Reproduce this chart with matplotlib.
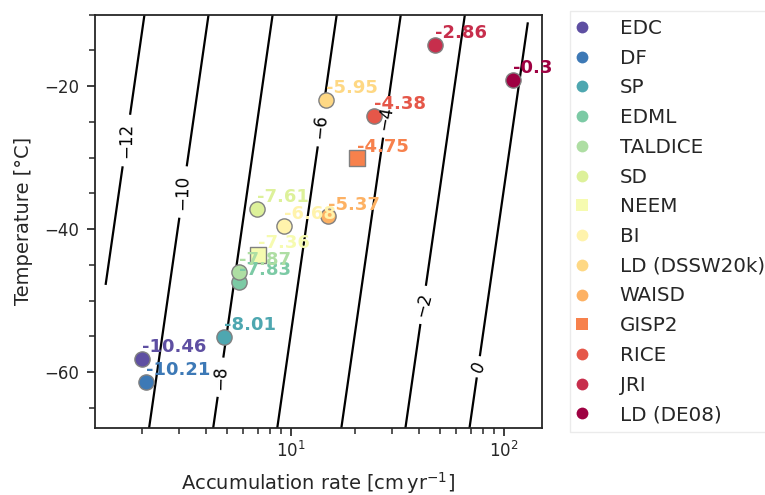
import numpy as np
import matplotlib.pyplot as plt
import seaborn as sns
from matplotlib.lines import Line2D
from matplotlib.ticker import MultipleLocator

sns.set_style("ticks")

# Standorte
sites = ["EDC", "DF", "SP", "EDML", "TALDICE", "SD", "NEEM", "BI",
         "LD (DSSW20k)", "WAISD", "GISP2", "RICE", "JRI", "LD (DE08)"]
markers = ["o", "o", "o", "o", "o", "o", "s", "o", "o", "o", "s", "o", "o", "o"]
accum = [2.0, 2.1, 4.87, 5.71, 5.71, 6.92, 7.0, 9.3, 14.66, 15.03, 20.5, 24.7, 47.7, 110.7]
temp = [-58.1, -61.4, -55.1, -47.4, -46.0, -37.2, -43.6, -39.5, -21.9, -38.2, -30.1, -24.2, -14.2, -19.1]
value = [-10.46, -10.21, -8.01, -7.83, -7.87, -7.61, -7.36, -6.68, -5.95, -5.37, -4.75, -4.38, -2.86, -0.3]

# Konturen
levels = [-12, -10, -8, -6, -4, -2, 0]
label_pos = [(1.72, -27.6), (3.12, -34.8), (4.65, -60.7), (14.2, -25.7),
             (28.1, -24.5), (42.0, -50.6), (76.3, -59.3)]
k_acc = 2.0      # pro log2(A)
k_temp = -0.0321  # pro Grad
offset = -14.40

colors = plt.cm.Spectral_r(np.linspace(0, 1, len(sites)))

fig = plt.figure(figsize=(7.65, 4.95), dpi=100)
ax = fig.add_axes([0.1238, 0.1354, 0.5843, 0.8349])

aa = np.logspace(np.log10(1.35), np.log10(130), 300)
tt = np.linspace(-72, -6, 300)
AA, TT = np.meshgrid(aa, tt)
ZZ = k_acc * np.log2(AA) + k_temp * TT + offset
cs = ax.contour(AA, TT, ZZ, levels=levels, colors="k", linewidths=1.6,
                linestyles="solid")
ax.clabel(cs, fontsize=12, manual=label_pos, inline=True)

handles = []
for s, m, a, t, v, c in zip(sites, markers, accum, temp, value, colors):
    ax.scatter(a, t, s=120, color=c, marker=m, edgecolor="gray", linewidth=1, zorder=3)
    ax.annotate(str(v), (a, t), xytext=(0, 2), textcoords="offset points",
                color=c, fontweight="bold", fontsize=13, ha="left", va="bottom",
                zorder=4)
    handles.append(Line2D([], [], ls="", marker=m, color=c, markersize=8.5,
                          markeredgewidth=0, label=s))

ax.set_xscale("log")
ax.set_xlim(1.2, 151)
ax.set_ylim(-67.8, -10)
ax.yaxis.set_major_locator(MultipleLocator(20))
ax.yaxis.set_minor_locator(MultipleLocator(5))
ax.tick_params(which="major", length=6, width=1.25, labelsize=12)
ax.tick_params(axis="y", which="major", pad=5)
ax.tick_params(which="minor", length=4, width=1.1)
for sp in ax.spines.values():
    sp.set_linewidth(1.3)

ax.set_xlabel(r"Accumulation rate [$\mathrm{cm\,yr^{-1}}$]", fontsize=14, labelpad=6)
ax.set_ylabel("Temperature [°C]", fontsize=14, labelpad=8)

ax.legend(handles=handles, loc="upper left", bbox_to_anchor=(1.063, 1.009),
          fontsize=14.3, borderpad=0.4, handlelength=0.4, handletextpad=1.7,
          labelspacing=0.54, borderaxespad=0, fancybox=False, edgecolor="0.9")

fig.savefig("out.png", dpi=100)
